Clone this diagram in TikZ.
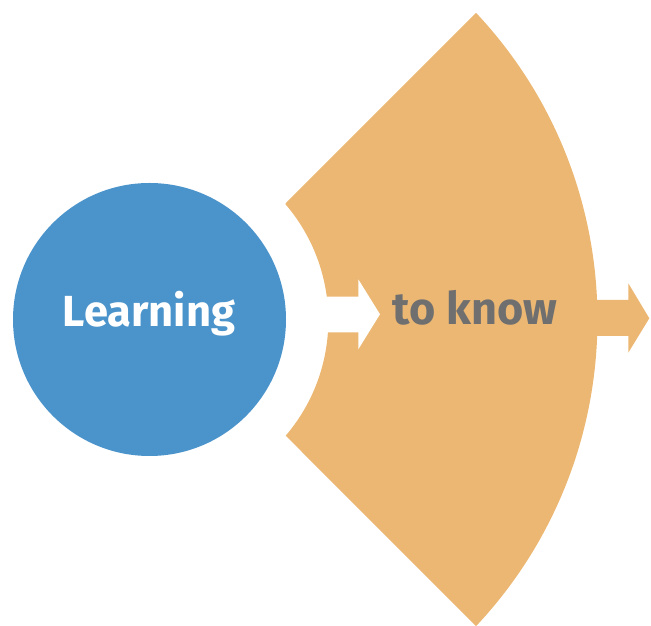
\documentclass[tikz,border=0pt]{standalone}
\usepackage{fontspec}
\setmainfont{Fira Sans}
\usetikzlibrary{calc}
\definecolor{blueC}{RGB}{75,148,203}
\definecolor{orangeC}{RGB}{235,183,114}
\definecolor{grayT}{RGB}{111,111,111}
\tikzset{
  lbl/.style={font=\fontsize{45}{50}\selectfont\bfseries, anchor=base, inner sep=0pt},
  orangefill/.style={fill=orangeC, draw=none},
  whitefill/.style={fill=white, draw=none}
}
\begin{document}
\begin{tikzpicture}[x=1pt,y=1pt]
\useasboundingbox (0,0) rectangle (651,626);
\coordinate (c) at (149.5,306.5);
% orange ring sector
\fill[orangefill] (285.7,422.7) -- ($(c)+(43.2:448)$) arc[start angle=43.2, end angle=-43.2, radius=448]
  -- (285.7,190.3) arc[start angle=-40.5, end angle=40.5, radius=178] -- cycle;
% orange outgoing arrow
\fill[orangefill] (585,326) -- (628.3,326) -- (628.3,342.7) -- (649.3,307.7) -- (628.3,273.3) -- (628.3,290) -- (585,290) -- cycle;
% white arrow
\fill[whitefill] (322,329.3) -- (358.3,329.3) -- (358.3,346.7) -- (380,311.7) -- (358.3,276.7) -- (358.3,293.7) -- (322,293.7) -- cycle;
% circle
\node[circle, fill=blueC, minimum size=273pt, inner sep=0pt] (learn) at (c) {};
\node[lbl, text=white, font=\fontsize{43.5}{50}\selectfont\bfseries] (learntxt) at (149,299.3) {Learning};
\node[lbl, text=grayT] (know) at (475,301) {to know};
\end{tikzpicture}
\end{document}
